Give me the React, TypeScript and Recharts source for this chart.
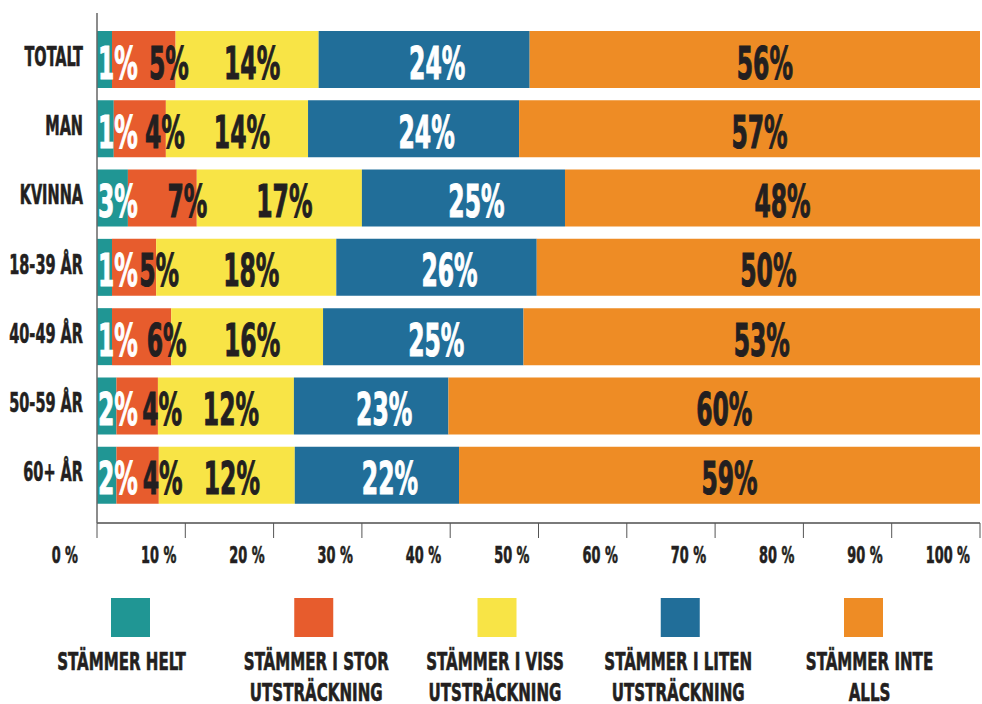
import React from "react";
import { Bar, BarChart, LabelList, Legend, XAxis, YAxis } from "recharts";

const groups = ["TOTALT", "MAN", "KVINNA", "18-39 ÅR", "40-49 ÅR", "50-59 ÅR", "60+ ÅR"];

// bar lengths as drawn (percent of axis)
const helt = [1.7, 1.9, 3.5, 1.7, 1.7, 2.2, 2.2];
const stor = [7.2, 5.9, 7.8, 5.0, 6.7, 4.7, 4.8];
const viss = [16.2, 16.1, 18.7, 20.4, 17.2, 15.4, 15.4];
const liten = [23.9, 23.9, 23.0, 22.7, 22.7, 17.5, 18.6];
const inte = [51.0, 52.2, 47.0, 50.2, 51.7, 60.2, 59.0];

// printed percentages
const heltText = [1, 1, 3, 1, 1, 2, 2];
const storText = [5, 4, 7, 5, 6, 4, 4];
const vissText = [14, 14, 17, 18, 16, 12, 12];
const litenText = [24, 24, 25, 26, 25, 23, 22];
const inteText = [56, 57, 48, 50, 53, 60, 59];

const xTicks = [0, 10, 20, 30, 40, 50, 60, 70, 80, 90, 100];

const legendLines = [
  ["STÄMMER HELT"],
  ["STÄMMER I STOR", "UTSTRÄCKNING"],
  ["STÄMMER I VISS", "UTSTRÄCKNING"],
  ["STÄMMER I LITEN", "UTSTRÄCKNING"],
  ["STÄMMER INTE", "ALLS"],
];

const data = groups.map((group, i) => ({
  group,
  helt: helt[i],
  stor: stor[i],
  viss: viss[i],
  liten: liten[i],
  inte: inte[i],
}));

const series = [
  { key: "helt", color: "#209694", text: heltText, ink: "#ffffff", align: "start", dx: 1 },
  { key: "stor", color: "#e75c2d", text: storText, ink: "#231f20", align: "middle", dx: 25 },
  { key: "viss", color: "#f8e446", text: vissText, ink: "#231f20", align: "middle", dx: 5 },
  { key: "liten", color: "#216e99", text: litenText, ink: "#ffffff", align: "middle", dx: 13 },
  { key: "inte", color: "#ee8c25", text: inteText, ink: "#231f20", align: "middle", dx: 10 },
];

const FONT = "'Liberation Sans Narrow', 'Arial Narrow', 'DejaVu Sans Condensed', sans-serif";
const INK = "#231f20";
const AXIS = "#7a7a7a";

function CText({ x, y, size, fill = INK, anchor = "middle", sx = 0.62, heavy = 0, children }: any) {
  return (
    <text
      transform={`translate(${x},${y}) scale(${sx},1)`}
      textAnchor={anchor}
      fontFamily={FONT}
      fontWeight={700}
      fontSize={size}
      fill={fill}
      stroke={heavy ? fill : "none"}
      strokeWidth={heavy}
    >
      {children}
    </text>
  );
}

const XTick = (props: any) => {
  const { x, y, payload } = props;
  const v = payload.value;
  const shift = v === 0 ? -19 : v === 100 ? 0 : -9;
  return (
    <CText x={x + shift} y={y + 23} size={23.5} anchor="end" sx={0.61} heavy={0.6}>
      {`${v} %`}
    </CText>
  );
};

const YTick = (props: any) => {
  const { x, y, payload } = props;
  return (
    <CText x={x - 12} y={y + 6} size={26} anchor="end" sx={0.62} heavy={0.6}>
      {payload.value}
    </CText>
  );
};

const makeLabel = (s: (typeof series)[number]) => (props: any) => {
  const { x, y, width, height, index } = props;
  const px = s.align === "start" ? Number(x) + s.dx : Number(x) + Number(width) / 2 + s.dx;
  const py = Number(y) + Number(height) / 2 + 19;
  return (
    <CText key={`${s.key}-${index}`} x={px} y={py} size={45} fill={s.ink} anchor={s.align} sx={0.58} heavy={1}>
      {`${s.text[index]}%`}
    </CText>
  );
};

const textShift = [-9, 2.5, -2, -2, 6];

const LegendBox = () => (
  <svg width={982} height={114} style={{ display: "block", overflow: "visible" }}>
    {series.map((s, i) => {
      const cx = 130.5 + i * 183.25;
      return (
        <g key={s.key}>
          <rect x={cx - 19.5} y={8} width={39} height={39} fill={s.color} />
          {legendLines[i].map((line, j) => (
            <CText key={j} x={cx + textShift[i]} y={80 + j * 30.5} size={25} sx={0.67} heavy={0.6}>
              {line}
            </CText>
          ))}
        </g>
      );
    })}
  </svg>
);

export default function App() {
  return (
    <div style={{ width: 982, height: 704, background: "#fff" }}>
      <style>{"body{margin:0}"}</style>
      <BarChart
        width={982}
        height={704}
        data={data}
        layout="vertical"
        barSize={57}
        barGap={-57}
        margin={{ top: 13, right: 2, bottom: 141, left: 0 }}
      >
        <XAxis
          type="number"
          domain={[0, 100]}
          ticks={xTicks}
          allowDataOverflow
          height={40}
          tickSize={15}
          axisLine={{ stroke: AXIS, strokeWidth: 2 }}
          tickLine={{ stroke: "#555" }}
          tick={<XTick />}
        />
        <YAxis
          type="category"
          dataKey="group"
          width={97}
          padding={{ top: 12, bottom: 13 }}
          axisLine={{ stroke: "#666", strokeWidth: 1.5 }}
          tickLine={false}
          tickSize={0}
          tick={<YTick />}
        />
        {series.map((s) => (
          <Bar key={s.key} dataKey={s.key} stackId="bars" fill={s.color} isAnimationActive={false} />
        ))}
        {series.map((s) => (
          <Bar
            key={`${s.key}-lbl`}
            dataKey={s.key}
            stackId="labels"
            fill="transparent"
            legendType="none"
            isAnimationActive={false}
          >
            <LabelList dataKey={s.key} content={makeLabel(s)} />
          </Bar>
        ))}
        <Legend
          verticalAlign="middle"
          layout="horizontal"
          wrapperStyle={{ top: 590, left: 0, width: 982 }}
          content={() => <LegendBox />}
        />
      </BarChart>
    </div>
  );
}
